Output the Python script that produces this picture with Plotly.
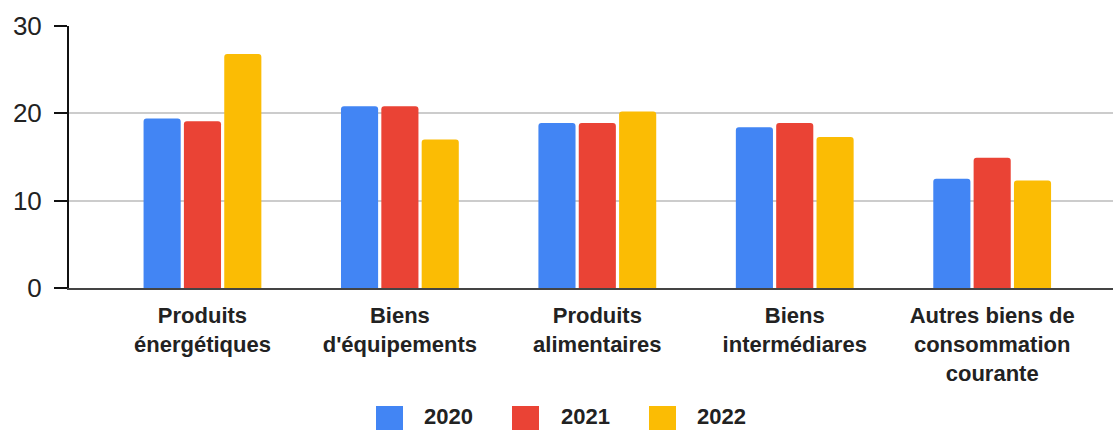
import plotly.graph_objects as go

# Data
categories = ["Produits énergétiques", "Biens d'équipements", "Produits alimentaires",
              "Biens intermédiares", "Autres biens de consommation courante"]
tick_labels = ["Produits<br>énergétiques", "Biens<br>d'équipements", "Produits<br>alimentaires",
               "Biens<br>intermédiares", "Autres biens de<br>consommation<br>courante"]
years = ["2020", "2021", "2022"]
values_2020 = [19.4, 20.8, 18.9, 18.4, 12.5]
values_2021 = [19.1, 20.8, 18.9, 18.9, 14.9]
values_2022 = [26.8, 17.0, 20.2, 17.3, 12.3]
y_ticks = [0, 10, 20, 30]

colors = ["#4285F4", "#EA4335", "#FBBC04"]
series = [values_2020, values_2021, values_2022]

W, H = 1113, 430
M_L, M_R, M_T, M_B = 69, 0, 26, 142
PW, PH = W - M_L - M_R, H - M_T - M_B

fig = go.Figure()
for name, vals, col in zip(years, series, colors):
    fig.add_trace(go.Bar(x=categories, y=vals, name=name, marker_color=col,
                         marker_line_width=0, showlegend=False))

font_family = "Liberation Sans, Arial, sans-serif"


def px_x(px):
    return (px - M_L) / PW


def px_y(py):
    return (M_T + PH - py) / PH


# Legend: large square swatches with bold labels underneath the chart
legend_sq_x = [376, 512, 649]
legend_txt_x = [422, 559, 695]
sq = 27
sq_top = 406
for name, col, sx, tx in zip(years, colors, legend_sq_x, legend_txt_x):
    fig.add_shape(type="rect", xref="paper", yref="paper",
                  x0=px_x(sx), x1=px_x(sx + sq), y0=px_y(sq_top + sq), y1=px_y(sq_top),
                  fillcolor=col, line_width=0)
    fig.add_annotation(xref="paper", yref="paper", x=px_x(tx), y=px_y(416),
                       xanchor="left", yanchor="middle", text=name, showarrow=False,
                       font=dict(family=font_family, size=22, color="#222222", weight="bold"))

fig.update_layout(
    width=W, height=H,
    margin=dict(l=M_L, r=M_R, t=M_T, b=M_B),
    plot_bgcolor="white", paper_bgcolor="white",
    barmode="group", bargap=0.387, bargroupgap=0.08,
    barcornerradius=3,
    font=dict(family=font_family, color="#222222"),
    xaxis=dict(
        type="category", range=[-0.676, 4.612],
        tickmode="array", tickvals=categories, ticktext=tick_labels,
        tickfont=dict(size=22, color="#222222", weight="bold"),
        ticklabelstandoff=7,
        showline=True, linecolor="#444444", linewidth=2,
        showgrid=False, ticks="", fixedrange=True,
    ),
    yaxis=dict(
        range=[0, 30], tickmode="array", tickvals=y_ticks,
        tickfont=dict(size=26, color="#222222"),
        ticklabelstandoff=7,
        showline=True, linecolor="#111111", linewidth=2,
        ticks="outside", ticklen=13, tickwidth=2, tickcolor="#111111",
        showgrid=True, gridcolor="#CCCCCC", gridwidth=2,
        zeroline=False, fixedrange=True,
    ),
)

fig.write_html("out.html")
